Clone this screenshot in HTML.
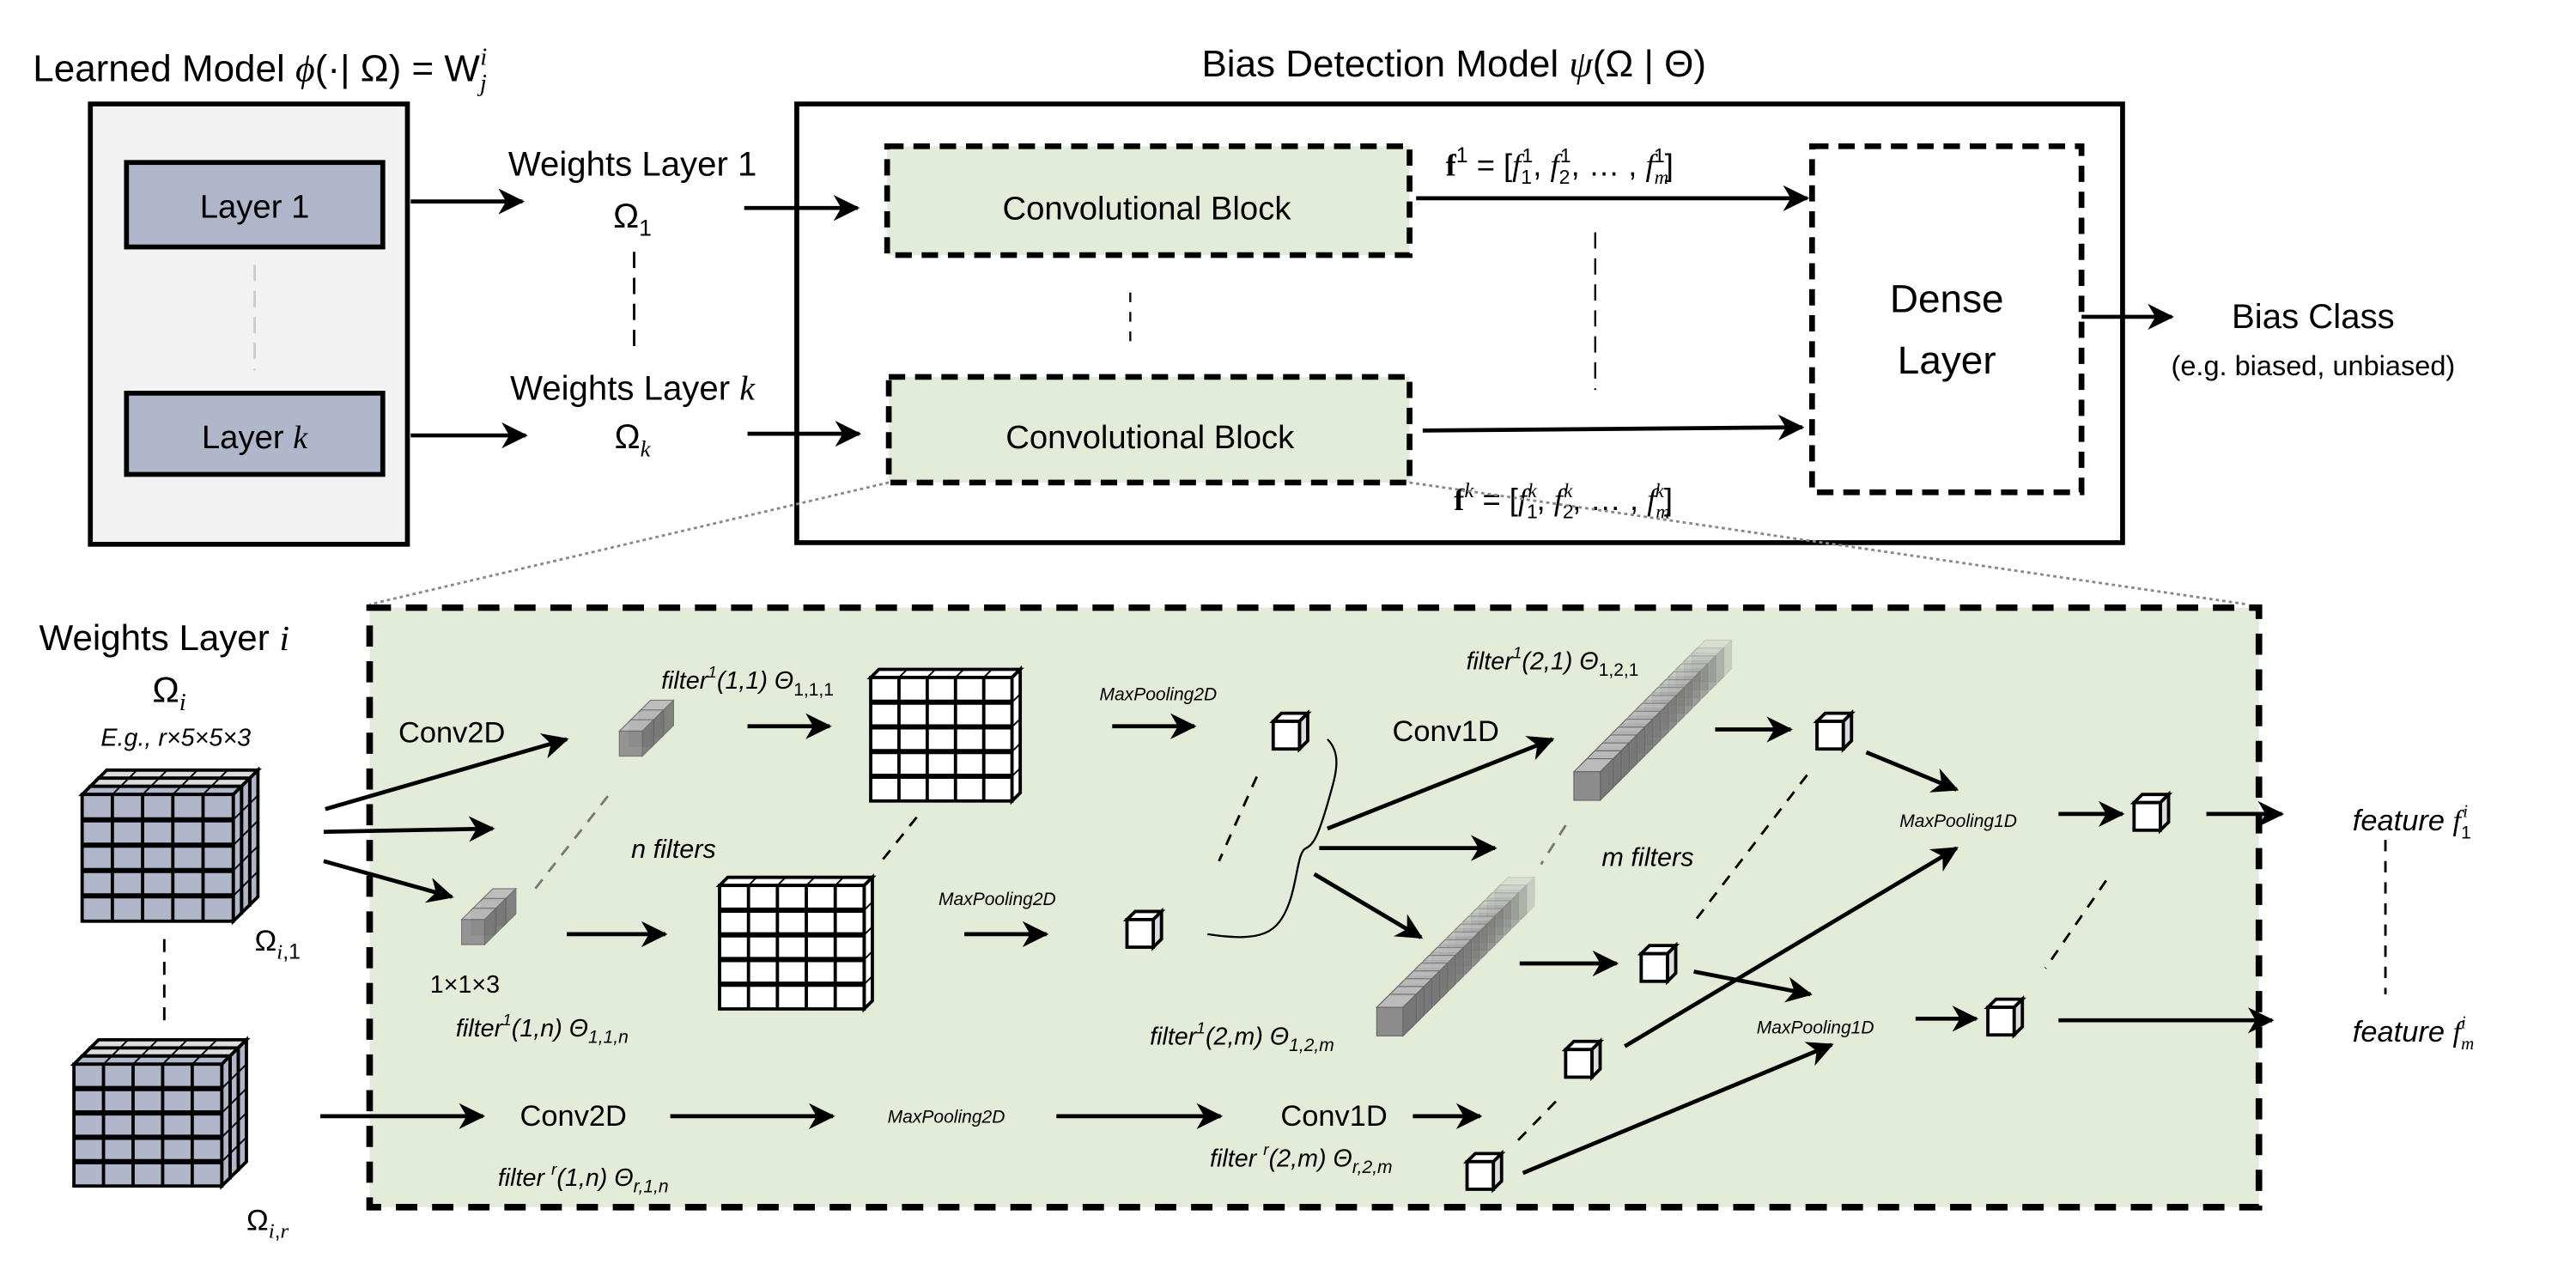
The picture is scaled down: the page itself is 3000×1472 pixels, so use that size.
<!DOCTYPE html>
<html><head><meta charset="utf-8"><style>
html,body{margin:0;padding:0;background:#fff;width:3000px;height:1472px;overflow:hidden}
svg{display:block}
text{font-family:"Liberation Sans Narrow","Liberation Sans",sans-serif;fill:#000}
.it{font-style:italic}
.m{font-family:"Liberation Serif",serif;font-style:italic}
</style></head><body>
<svg id="s" width="3000" height="1472" viewBox="0 0 1568 778" preserveAspectRatio="none" xmlns="http://www.w3.org/2000/svg">
<defs>
<marker id="a" markerUnits="userSpaceOnUse" markerWidth="16" markerHeight="16" viewBox="0 0 12 12" refX="11" refY="6" orient="auto">
<path d="M0,0 L12,6 L0,12 L3.5,6 z" fill="#000"/></marker>
</defs>
<text x="20" y="50" font-size="23">Learned Model <tspan class="m">ϕ</tspan>(·| Ω) = W<tspan class="m" font-size="15" dy="6">j</tspan><tspan class="m" font-size="15" dx="-4" dy="-16">i</tspan></text>
<text x="885" y="47" font-size="23" text-anchor="middle">Bias Detection Model <tspan class="m">ψ</tspan>(Ω | Θ)</text>
<rect x="55" y="64" width="193" height="271" fill="#f2f2f2" stroke="#000" stroke-width="3"/>
<rect x="77" y="100" width="156" height="52" fill="#b1b7ca" stroke="#000" stroke-width="3"/>
<text x="155" y="134" font-size="20" text-anchor="middle">Layer 1</text>
<rect x="77" y="242" width="156" height="50" fill="#b1b7ca" stroke="#000" stroke-width="3"/>
<text x="155" y="276" font-size="20" text-anchor="middle">Layer <tspan class="m">k</tspan></text>
<line x1="155" y1="163" x2="155" y2="228" stroke="#ccc" stroke-width="1.5" stroke-dasharray="10,6"/>
<g stroke="#000" stroke-width="2.5" marker-end="url(#a)">
<line x1="250" y1="124" x2="318" y2="124"/><line x1="250" y1="268" x2="320" y2="268"/>
<line x1="453" y1="128" x2="522" y2="128"/><line x1="455" y1="267" x2="523" y2="267"/>
<line x1="862" y1="122" x2="1100" y2="122"/><line x1="866" y1="265" x2="1097" y2="263"/>
<line x1="1267" y1="195" x2="1322" y2="195"/>
</g>
<text x="385" y="108" font-size="21" text-anchor="middle">Weights Layer 1</text>
<text x="385" y="140" font-size="21" text-anchor="middle">Ω<tspan font-size="14" dy="5">1</tspan></text>
<text x="385" y="246" font-size="21" text-anchor="middle">Weights Layer <tspan class="m">k</tspan></text>
<text x="385" y="276" font-size="21" text-anchor="middle">Ω<tspan class="m" font-size="14" dy="5">k</tspan></text>
<line x1="386" y1="155" x2="386" y2="215" stroke="#000" stroke-width="1.5" stroke-dasharray="10,6"/>
<rect x="485" y="64" width="807" height="270" fill="none" stroke="#000" stroke-width="3"/>
<rect x="540" y="90" width="318" height="67" fill="#e3ecd9" stroke="#000" stroke-width="3.5" stroke-dasharray="10,6"/>
<text x="698" y="135" font-size="20" text-anchor="middle">Convolutional Block</text>
<rect x="541" y="232" width="317" height="65" fill="#e3ecd9" stroke="#000" stroke-width="3.5" stroke-dasharray="10,6"/>
<text x="700" y="276" font-size="20" text-anchor="middle">Convolutional Block</text>
<line x1="688" y1="180" x2="688" y2="215" stroke="#000" stroke-width="1.2" stroke-dasharray="6,6"/>
<line x1="971" y1="143" x2="971" y2="240" stroke="#000" stroke-width="1.2" stroke-dasharray="10,6"/>
<text x="880" y="108" font-size="19"><tspan font-family="Liberation Serif" font-weight="bold">f</tspan><tspan font-size="13" dy="-8">1</tspan><tspan dy="8"> = [</tspan><tspan class="m">f</tspan><tspan font-size="12" dy="5">1</tspan><tspan font-size="12" dx="-6" dy="-13">1</tspan><tspan dy="8">, </tspan><tspan class="m">f</tspan><tspan font-size="12" dy="5">2</tspan><tspan font-size="12" dx="-6" dy="-13">1</tspan><tspan dy="8">, … , </tspan><tspan class="m">f</tspan><tspan class="m" font-size="12" dy="5">m</tspan><tspan font-size="12" dx="-9" dy="-13">1</tspan><tspan dy="8">]</tspan></text>
<text x="885" y="314" font-size="19"><tspan font-family="Liberation Serif" font-weight="bold">f</tspan><tspan class="m" font-size="13" dy="-8">k</tspan><tspan dy="8"> = [</tspan><tspan class="m">f</tspan><tspan font-size="12" dy="5">1</tspan><tspan class="m" font-size="12" dx="-6" dy="-13">k</tspan><tspan dy="8">, </tspan><tspan class="m">f</tspan><tspan font-size="12" dy="5">2</tspan><tspan class="m" font-size="12" dx="-6" dy="-13">k</tspan><tspan dy="8">, … , </tspan><tspan class="m">f</tspan><tspan class="m" font-size="12" dy="5">m</tspan><tspan class="m" font-size="12" dx="-9" dy="-13">k</tspan><tspan dy="8">]</tspan></text>
<rect x="1103" y="90" width="164" height="213" fill="#fff" stroke="#000" stroke-width="3.5" stroke-dasharray="10,6"/>
<text x="1185" y="192" font-size="24" text-anchor="middle">Dense</text>
<text x="1185" y="230" font-size="24" text-anchor="middle">Layer</text>
<text x="1408" y="202" font-size="21" text-anchor="middle">Bias Class</text>
<text x="1408" y="231" font-size="17" text-anchor="middle">(e.g. biased, unbiased)</text>
<line x1="541" y1="297" x2="225" y2="372" stroke="#888" stroke-width="1.5" stroke-dasharray="2,2"/>
<line x1="858" y1="297" x2="1368" y2="372" stroke="#888" stroke-width="1.5" stroke-dasharray="2,2"/>
<rect x="225" y="374" width="1150" height="369" fill="#e3ecd9" stroke="#000" stroke-width="4" stroke-dasharray="13,9"/>
<text x="100" y="400" font-size="22" text-anchor="middle">Weights Layer <tspan class="m">i</tspan></text>
<text x="103" y="432" font-size="22" text-anchor="middle">Ω<tspan class="m" font-size="15" dy="5">i</tspan></text>
<text x="107" y="459" font-size="15" text-anchor="middle" class="it">E.g., r×5×5×3</text>
<text x="155" y="585" font-size="18">Ω<tspan class="m" font-size="13" dy="5">i</tspan><tspan font-size="13">,1</tspan></text>
<text x="150" y="757" font-size="18">Ω<tspan class="m" font-size="13" dy="5">i</tspan><tspan font-size="13">,</tspan><tspan class="m" font-size="13">r</tspan></text>
<line x1="100" y1="578" x2="100" y2="630" stroke="#000" stroke-width="1.5" stroke-dasharray="8,6"/>
<g id="g"></g>
<g stroke="#000" stroke-width="2.5" marker-end="url(#a)" fill="none">
<line x1="198" y1="498" x2="345" y2="455"/><line x1="197" y1="512" x2="300" y2="510"/><line x1="197" y1="530" x2="275" y2="552"/>
<line x1="455" y1="447" x2="505" y2="447"/><line x1="345" y1="575" x2="405" y2="575"/>
<line x1="677" y1="447" x2="727" y2="447"/><line x1="587" y1="575" x2="637" y2="575"/>
<line x1="808" y1="510" x2="945" y2="455"/><line x1="803" y1="522" x2="910" y2="522"/><line x1="800" y1="538" x2="865" y2="577"/>
<line x1="1044" y1="449" x2="1090" y2="449"/><line x1="1136" y1="463" x2="1191" y2="486"/>
<line x1="1253" y1="501" x2="1292" y2="501"/><line x1="1343" y1="501" x2="1389" y2="501"/>
<line x1="925" y1="593" x2="984" y2="593"/><line x1="1031" y1="598" x2="1102" y2="612"/>
<line x1="989" y1="644" x2="1191" y2="522"/><line x1="1166" y1="627" x2="1203" y2="627"/>
<line x1="1253" y1="628" x2="1383" y2="628"/><line x1="927" y1="722" x2="1115" y2="643"/>
<line x1="860" y1="687" x2="901" y2="687"/>
<line x1="195" y1="687" x2="294" y2="687"/><line x1="408" y1="687" x2="507" y2="687"/><line x1="643" y1="687" x2="743" y2="687"/>
</g>
<path d="M808,455 C818,465 812,480 808,495 C803,512 800,520 795,522 C790,524 790,540 785,555 C778,575 768,580 735,575" fill="none" stroke="#000" stroke-width="1.2"/>
<g stroke-width="1.5" stroke-dasharray="7,6" fill="none">
<line x1="370" y1="490" x2="325" y2="548" stroke="#777"/>
<line x1="558" y1="503" x2="535" y2="532" stroke="#000"/>
<line x1="765" y1="478" x2="742" y2="530" stroke="#000"/>
<line x1="953" y1="508" x2="938" y2="532" stroke="#777"/>
<line x1="1100" y1="477" x2="1030" y2="569" stroke="#000"/>
<line x1="1282" y1="542" x2="1245" y2="596" stroke="#000"/>
<line x1="947" y1="678" x2="920" y2="706" stroke="#000"/>
<line x1="1452" y1="517" x2="1452" y2="612" stroke="#000"/>
</g>
<text x="275" y="457" font-size="18" text-anchor="middle">Conv2D</text>
<text x="455" y="424" font-size="15" text-anchor="middle" class="it">filter<tspan font-size="10" dy="-7">1</tspan><tspan dy="7">(1,1) Θ</tspan><tspan font-size="11" dy="4" font-style="normal">1,1,1</tspan></text>
<text x="410" y="528" font-size="16" text-anchor="middle" class="it">n filters</text>
<text x="283" y="611" font-size="15" text-anchor="middle">1×1×3</text>
<text x="330" y="638" font-size="15" text-anchor="middle" class="it">filter<tspan font-size="10" dy="-7">1</tspan><tspan dy="7">(1,n) Θ</tspan><tspan font-size="11" dy="4">1,1,n</tspan></text>
<text x="705" y="431" font-size="11" text-anchor="middle" class="it">MaxPooling2D</text>
<text x="607" y="557" font-size="11" text-anchor="middle" class="it">MaxPooling2D</text>
<text x="880" y="456" font-size="18" text-anchor="middle">Conv1D</text>
<text x="945" y="412" font-size="15" text-anchor="middle" class="it">filter<tspan font-size="10" dy="-7">1</tspan><tspan dy="7">(2,1) Θ</tspan><tspan font-size="11" dy="4" font-style="normal">1,2,1</tspan></text>
<text x="1003" y="533" font-size="16" text-anchor="middle" class="it">m filters</text>
<text x="756" y="643" font-size="15" text-anchor="middle" class="it">filter<tspan font-size="10" dy="-7">1</tspan><tspan dy="7">(2,m) Θ</tspan><tspan font-size="11" dy="4">1,2,m</tspan></text>
<text x="1192" y="509" font-size="11" text-anchor="middle" class="it">MaxPooling1D</text>
<text x="1105" y="636" font-size="11" text-anchor="middle" class="it">MaxPooling1D</text>
<text x="1432" y="511" font-size="18" class="it">feature <tspan class="m">f</tspan><tspan font-size="11" dy="5" font-style="normal">1</tspan><tspan class="m" font-size="11" dx="-5" dy="-13">i</tspan></text>
<text x="1432" y="641" font-size="18" class="it">feature <tspan class="m">f</tspan><tspan class="m" font-size="11" dy="5">m</tspan><tspan class="m" font-size="11" dx="-8" dy="-13">i</tspan></text>
<text x="349" y="693" font-size="18" text-anchor="middle">Conv2D</text>
<text x="576" y="691" font-size="11" text-anchor="middle" class="it">MaxPooling2D</text>
<text x="812" y="693" font-size="18" text-anchor="middle">Conv1D</text>
<text x="355" y="730" font-size="15" text-anchor="middle" class="it">filter <tspan font-size="10" dy="-7">r</tspan><tspan dy="7">(1,n) Θ</tspan><tspan font-size="11" dy="4">r,1,n</tspan></text>
<text x="792" y="718" font-size="15" text-anchor="middle" class="it">filter <tspan font-size="10" dy="-7">r</tspan><tspan dy="7">(2,m) Θ</tspan><tspan font-size="11" dy="4">r,2,m</tspan></text>
</svg>
<script>
var g=document.getElementById('g'),h='';
function poly(p,f,sw,st){h+='<polygon points="'+p+'" fill="'+f+'" stroke="'+(st||'#000')+'" stroke-width="'+sw+'"/>';}
function grid(x,y,w,ht,d,fill,layers,sw){
 for(var L=layers-1;L>=0;L--){
  var ox=x+L*d,oy=y-L*d;
  poly(ox+','+oy+' '+(ox+d)+','+(oy-d)+' '+(ox+w+d)+','+(oy-d)+' '+(ox+w)+','+oy,L>0?'#ddd':fill,sw);
  poly((ox+w)+','+oy+' '+(ox+w+d)+','+(oy-d)+' '+(ox+w+d)+','+(oy+ht-d)+' '+(ox+w)+','+(oy+ht),fill,sw);
  h+='<rect x="'+ox+'" y="'+oy+'" width="'+w+'" height="'+ht+'" fill="'+fill+'" stroke="#000" stroke-width="'+sw+'"/>';
  for(var i=1;i<5;i++){
   var xx=ox+w*i/5, yy=oy+ht*i/5;
   h+='<line x1="'+xx+'" y1="'+oy+'" x2="'+xx+'" y2="'+(oy+ht)+'" stroke="#000" stroke-width="'+sw+'"/>';
   h+='<line x1="'+ox+'" y1="'+yy+'" x2="'+(ox+w)+'" y2="'+yy+'" stroke="#000" stroke-width="'+(sw*1.6)+'"/>';
   h+='<line x1="'+xx+'" y1="'+oy+'" x2="'+(xx+d)+'" y2="'+(oy-d)+'" stroke="#000" stroke-width="1"/>';
   h+='<line x1="'+(ox+w)+'" y1="'+yy+'" x2="'+(ox+w+d)+'" y2="'+(yy-d)+'" stroke="#000" stroke-width="1"/>';
  }
 }
}
function cube(x,y,w,ht,d,sw){
 poly(x+','+y+' '+(x+d)+','+(y-d)+' '+(x+w+d)+','+(y-d)+' '+(x+w)+','+y,'#fff',sw);
 poly((x+w)+','+y+' '+(x+w+d)+','+(y-d)+' '+(x+w+d)+','+(y+ht-d)+' '+(x+w)+','+(y+ht),'#ddd',sw);
 h+='<rect x="'+x+'" y="'+y+'" width="'+w+'" height="'+ht+'" fill="#fff" stroke="#000" stroke-width="'+sw+'"/>';
}
grid(50,489,92,78,5,'#b1b7ca',3,2);
grid(45,655,90,75,5,'#b1b7ca',3,2);
grid(530,417,86,76,5,'#fff',1,2);
grid(438,545,88,76,5,'#fff',1,2);
function gcube(x,y,s,op){
 h+='<g opacity="'+op+'">';
 poly(x+','+y+' '+(x+s*0.5)+','+(y-s*0.5)+' '+(x+s*1.5)+','+(y-s*0.5)+' '+(x+s)+','+y,'#bbb',0.6,'#666');
 poly((x+s)+','+y+' '+(x+s*1.5)+','+(y-s*0.5)+' '+(x+s*1.5)+','+(y+s*0.6)+' '+(x+s)+','+(y+s*1.1),'#777',0.6,'#666');
 h+='<rect x="'+x+'" y="'+y+'" width="'+s+'" height="'+(s*1.1)+'" fill="#8c8c8c" stroke="#666" stroke-width="0.6"/></g>';
}
for(var i=2;i>=0;i--){gcube(377+i*6,450-i*6,14,0.9);}
for(var i=2;i>=0;i--){gcube(281+i*6,566-i*6,14,0.9);}
function bar(x0,y0,x1,y1,n){for(var i=n-1;i>=0;i--){var t=i/(n-1);gcube(x0+(x1-x0)*t,y0+(y1-y0)*t,16,1-0.75*t);}}
bar(958,475,1030,402,16);
bar(838,620,910,548,16);
[[775,444],[686,566],[1106,444],[1299,494],[999,587],[1210,620],[953,646],[893,715]].forEach(function(c){cube(c[0],c[1],16,17,5,2);});
g.innerHTML=h;
</script>
</body></html>
